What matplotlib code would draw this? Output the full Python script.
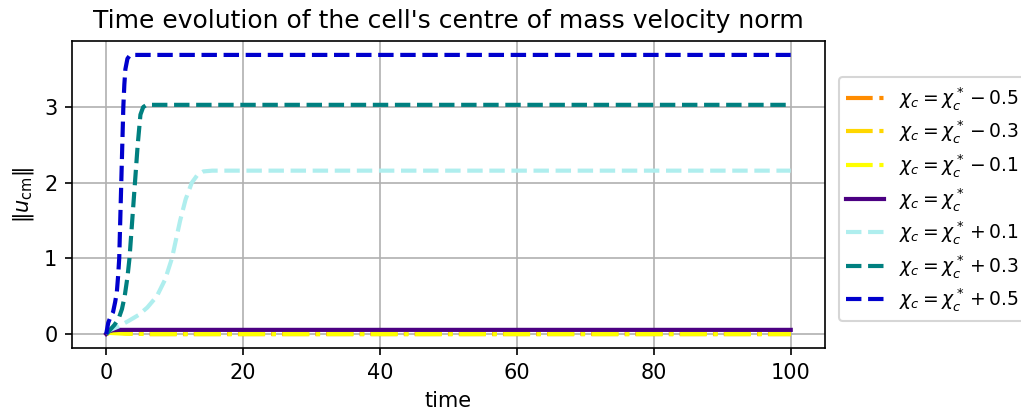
import numpy as np
import matplotlib
matplotlib.use("Agg")
import matplotlib.pyplot as plt

# values
t_m05 = [0, 0.5, 1.5, 3, 6, 100]
u_m05 = [0, 0.03, 0.02, 0.01, 0.0, 0.0]
t_m03 = [0, 0.5, 1.5, 3, 6, 100]
u_m03 = [0, 0.02, 0.015, 0.01, 0.0, 0.0]
t_m01 = [0, 0.5, 1.5, 3, 6, 100]
u_m01 = [0, 0.015, 0.01, 0.005, 0.0, 0.0]
t_0 = [0, 0.5, 1.0, 2.0, 100]
u_0 = [0, 0.04, 0.05, 0.055, 0.055]
t_p01 = [0, 0.5, 1.8, 3.2, 4.7, 6.0, 7.4, 8.6, 9.6, 10.2, 10.8, 11.6, 12.5, 13.3, 14.2, 15.5, 17, 100]
u_p01 = [0, 0.05, 0.1, 0.17, 0.25, 0.35, 0.5, 0.72, 1.0, 1.25, 1.5, 1.78, 2.0, 2.1, 2.15, 2.16, 2.16, 2.16]
t_p03 = [0, 0.5, 1.2, 1.8, 2.3, 2.7, 3.1, 3.4, 3.8, 4.2, 4.6, 5.0, 5.4, 5.9, 6.5, 100]
u_p03 = [0, 0.05, 0.12, 0.2, 0.33, 0.5, 0.75, 1.0, 1.5, 2.0, 2.5, 2.9, 3.0, 3.03, 3.03, 3.03]
t_p05 = [0, 0.3, 0.6, 1.0, 1.3, 1.55, 1.75, 1.9, 2.05, 2.2, 2.35, 2.5, 2.65, 2.8, 3.1, 3.5, 4.0, 100]
u_p05 = [0, 0.15, 0.22, 0.29, 0.42, 0.55, 0.78, 1.0, 1.5, 2.0, 2.5, 3.0, 3.3, 3.5, 3.64, 3.69, 3.69, 3.69]

labels = [r'$\chi_c = \chi_c^* - 0.5$', r'$\chi_c = \chi_c^* - 0.3$', r'$\chi_c = \chi_c^* - 0.1$',
          r'$\chi_c = \chi_c^*$', r'$\chi_c = \chi_c^* + 0.1$', r'$\chi_c = \chi_c^* + 0.3$',
          r'$\chi_c = \chi_c^* + 0.5$']
colors = ['darkorange', 'gold', 'yellow', 'indigo', 'paleturquoise', 'teal', 'mediumblue']
styles = ['-.', '-.', '-.', '-', '--', '--', '--']
series = [(t_m05, u_m05), (t_m03, u_m03), (t_m01, u_m01), (t_0, u_0),
          (t_p01, u_p01), (t_p03, u_p03), (t_p05, u_p05)]

fig, ax = plt.subplots(figsize=(1021 / 150, 418 / 150), dpi=150)
for (t, u), lab, c, ls in zip(series, labels, colors, styles):
    ax.plot(t, u, ls, color=c, lw=2, label=lab)

ax.set_title("Time evolution of the cell's centre of mass velocity norm")
ax.set_xlabel('time')
ax.set_ylabel(r'$\|u_{\rm cm}\|$')
ax.set_yticks([0, 1, 2, 3])
ax.grid(True)
ax.legend(loc='center left', bbox_to_anchor=(1.006, 0.485), fontsize=9,
          labelspacing=0.35)
fig.subplots_adjust(left=0.0705, right=0.808, top=0.902, bottom=0.1675)
fig.savefig('out.png', dpi=150)
